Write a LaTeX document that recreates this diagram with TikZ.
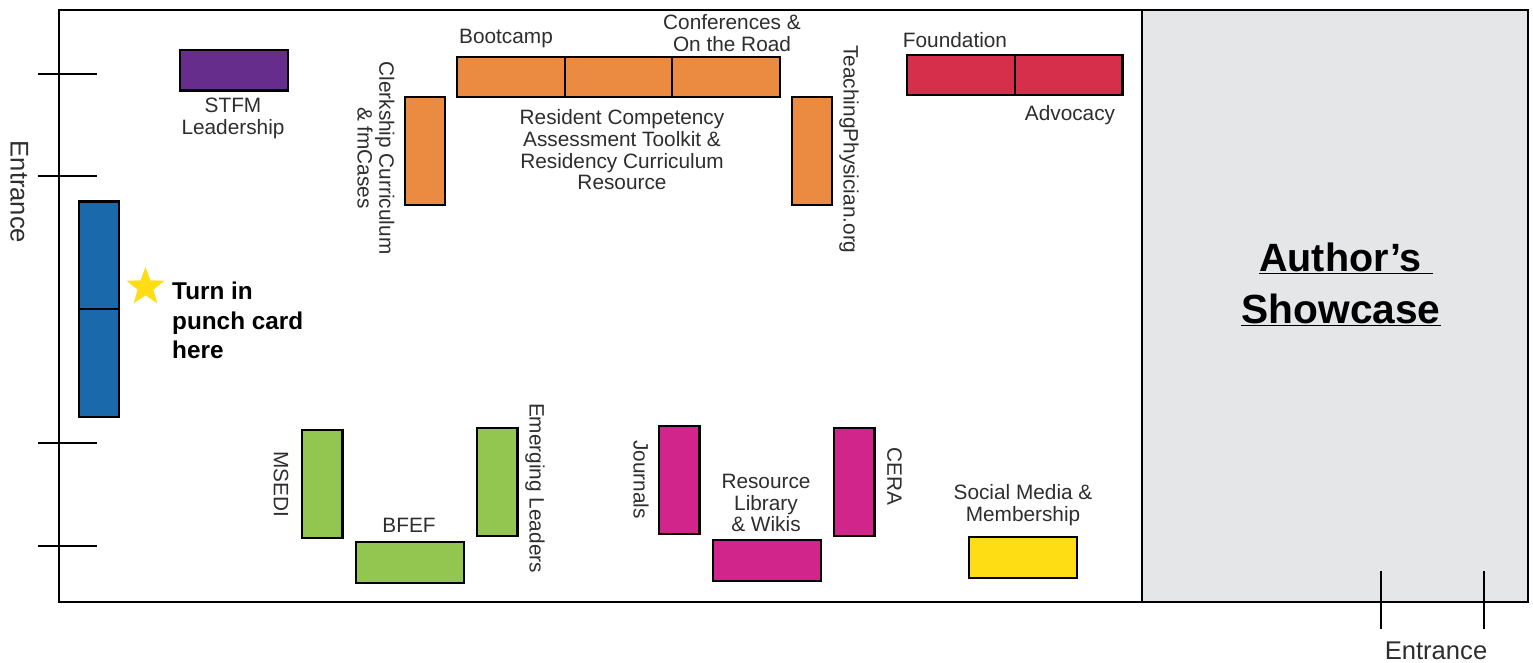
\documentclass[tikz,border=0pt]{standalone}
\usepackage{fontspec}
\setmainfont{Liberation Sans}
\usetikzlibrary{shapes.geometric}
\definecolor{cblue}{HTML}{1A6AAB}
\definecolor{cpurple}{HTML}{662D8D}
\definecolor{corange}{HTML}{EB8A41}
\definecolor{cred}{HTML}{D62F4C}
\definecolor{cgreen}{HTML}{92C651}
\definecolor{cmagenta}{HTML}{D2258C}
\definecolor{cyellow}{HTML}{FFDD15}
\definecolor{cgrey}{HTML}{E5E6E8}
\definecolor{cstar}{HTML}{FFDD15}
\tikzset{
 booth/.style={draw=black,line width=2.4pt},
 wall/.style={draw=black,line width=2.8pt},
 tick/.style={draw=black,line width=2.5pt},
 lab/.style={font=\fontsize{20.8}{21.7}\selectfont,align=center,inner sep=0pt,text=black!82},
 ent/.style={font=\fontsize{25.6}{28}\selectfont,anchor=base,inner sep=0pt,text=black!82},
 bold/.style={font=\fontsize{24.3}{29.2}\selectfont\bfseries,align=left,inner sep=0pt,text=black},
 show/.style={font=\fontsize{40.7}{51.5}\selectfont\bfseries,align=center,inner sep=0pt,text=black},
}
\newcommand{\ul}[1]{\underline{#1}}
\begin{document}
\begin{tikzpicture}[x=1pt,y=-1pt]
\useasboundingbox (0,0) rectangle (1533,662);
\fill[white] (0,0) rectangle (1533,662);
% hall
\fill[cgrey] (1142,10) rectangle (1528,602);
\draw[wall] (59,10) rectangle (1528,602);
\draw[wall] (1142,10) -- (1142,602);
% ticks
\draw[tick] (38,74) -- (97,74);
\draw[tick] (38,176) -- (97,176);
\draw[tick] (38,443) -- (97,443);
\draw[tick] (38,546) -- (97,546);
\draw[tick] (1381,571) -- (1381,629);
\draw[tick] (1484,571) -- (1484,629);
% booths
\path[booth,fill=cblue] (79,201.5) rectangle (119,309);
\path[booth,fill=cblue] (79,309) rectangle (119,417);
\path[booth,fill=cpurple] (180,50) rectangle (288,90.5);
\path[booth,fill=corange] (457,57) rectangle (565,97);
\path[booth,fill=corange] (565,57) rectangle (672,97);
\path[booth,fill=corange] (672,57) rectangle (780,97);
\path[booth,fill=corange] (405,97) rectangle (445,205);
\path[booth,fill=corange] (792,97) rectangle (832,205);
\path[booth,fill=cred] (907,55) rectangle (1015,95);
\path[booth,fill=cred] (1015,55) rectangle (1122.5,95);
\path[booth,fill=cgreen] (302,430) rectangle (342.5,538);
\path[booth,fill=cgreen] (477,428) rectangle (517.5,536);
\path[booth,fill=cgreen] (356,542) rectangle (464,583);
\path[booth,fill=cmagenta] (659,426) rectangle (699.5,534);
\path[booth,fill=cmagenta] (834,428) rectangle (874.5,536);
\path[booth,fill=cmagenta] (713,540) rectangle (821,581);
\path[booth,fill=cyellow] (969,537) rectangle (1077,578);
% star
\node[star,star points=5,star point ratio=2.4,fill=cstar,inner sep=0pt,minimum size=40pt] (star) at (145.5,287) {};
% labels
\node[ent,rotate=-90] (entl) at (10.5,192) {Entrance};
\node[ent] (entb) at (1436,659.5) {Entrance};
\node[lab] (stfm) at (233,118.5) {STFM\\Leadership};
\node[lab] (boot) at (506,38.5) {Bootcamp};
\node[lab] (conf) at (732,33) {Conferences \&\\On the Road};
\node[lab] (found) at (955,40) {Foundation};
\node[lab] (adv) at (1070,115) {Advocacy};
\node[lab,rotate=-90] (clerk) at (376,158) {Clerkship Curriculum\\\& fmCases};
\node[lab,rotate=-90] (teach) at (849,149.5) {TeachingPhysician.org};
\node[lab] (rc) at (622,150) {Resident Competency\\Assessment Toolkit \&\\Residency Curriculum\\Resource};
\node[lab,rotate=-90] (msedi) at (281,484) {MSEDI};
\node[lab,rotate=-90] (emerg) at (535,488) {Emerging Leaders};
\node[lab] (bfef) at (409,525) {BFEF};
\node[lab,rotate=-90] (jour) at (641,479.5) {Journals};
\node[lab] (rlib) at (766,503) {Resource\\Library\\\& Wikis};
\node[lab,rotate=-90] (cera) at (894.5,476) {CERA};
\node[lab] (soc) at (1023,505) {Social Media \&\\Membership};
\node[bold,anchor=north west] (turn) at (172,282) {Turn in\\punch card\\here};
\node[show] (auth) at (1341,284.5) {\hspace*{10pt}\fontsize{39.5}{51.5}\selectfont\ul{Author’s }\\\ul{Showcase}};
\end{tikzpicture}
\end{document}
